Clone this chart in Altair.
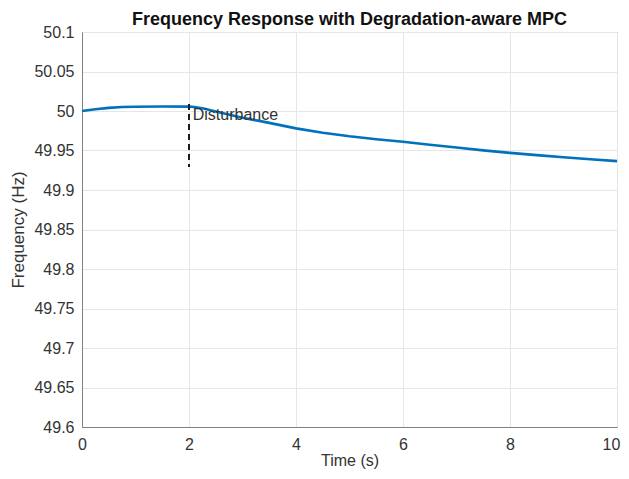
import altair as alt
import pandas as pd

# Frequency trace
time_s = [0, 0.25, 0.5, 0.75, 1, 1.5, 2, 2.1, 2.25, 2.5, 3, 3.5, 4, 4.5, 5, 5.5, 6, 6.5, 7, 7.5, 8, 8.5, 9, 9.5, 10]
freq_hz = [50.000, 50.0022, 50.0040, 50.0050, 50.0054, 50.0057, 50.0055, 50.0050, 50.0035, 49.9995, 49.9915, 49.9850, 49.9780, 49.9725, 49.9680, 49.9643, 49.9610, 49.9572, 49.9537, 49.9502, 49.9470, 49.9442, 49.9415, 49.9390, 49.9365]

dist_t = [2]
dist_top = [50.009]
dist_bottom = [49.929]
dist_label = ["Disturbance"]
label_t = [2.07]
label_y = [49.9955]

x_ticks = [0, 2, 4, 6, 8, 10]
y_ticks = [49.6, 49.65, 49.7, 49.75, 49.8, 49.85, 49.9, 49.95, 50.0, 50.05, 50.1]

df = pd.DataFrame({"t": time_s, "f": freq_hz})
dist_df = pd.DataFrame({"t": dist_t, "top": dist_top, "bottom": dist_bottom})
lab_df = pd.DataFrame({"t": label_t, "y": label_y, "text": dist_label})

FONT = "Liberation Sans"
TXT = "#333333"

x_scale = alt.Scale(domain=[0, 10], nice=False, zero=False)
y_scale = alt.Scale(domain=[49.6, 50.1], nice=False, zero=False)

common = dict(grid=True, ticks=False, labelFont=FONT, titleFont=FONT,
              labelFontSize=16, labelColor=TXT, titleColor=TXT,
              titleFontWeight="normal", gridColor="#e6e6e6", domainColor="#808080",
              labelFlush=False, labelOverlap=False)

x_axis = alt.Axis(values=x_ticks, title="Time (s)", labelPadding=9, titlePadding=0,
                  titleFontSize=16, format="d",
                  labelOffset={"condition": {"test": "datum.value == 10", "value": -6},
                               "value": 0},
                  **common)
y_axis = alt.Axis(values=y_ticks, title="Frequency (Hz)", labelPadding=8, titlePadding=6,
                  titleFontSize=17, format=".4~g", **common)

line = alt.Chart(df).mark_line(color="#0072BD", strokeWidth=2.6).encode(
    x=alt.X("t:Q", scale=x_scale, axis=x_axis),
    y=alt.Y("f:Q", scale=y_scale, axis=y_axis),
)

rule = alt.Chart(dist_df).mark_rule(color="#1a1a1a", strokeWidth=2, strokeDash=[6, 4]).encode(
    x=alt.X("t:Q", scale=x_scale, axis=x_axis),
    y=alt.Y("top:Q", scale=y_scale, axis=y_axis),
    y2="bottom:Q",
)

text = alt.Chart(lab_df).mark_text(align="left", baseline="middle", font=FONT,
                                   fontSize=16, color=TXT).encode(
    x=alt.X("t:Q", scale=x_scale, axis=x_axis),
    y=alt.Y("y:Q", scale=y_scale, axis=y_axis),
    text="text:N",
)

chart = alt.layer(line, rule, text).properties(
    width=535,
    height=395,
    title=alt.TitleParams("Frequency Response with Degradation-aware MPC",
                          font=FONT, fontSize=18, fontWeight="bold", color="#111111",
                          anchor="middle", frame="group", offset=-5),
    autosize=alt.AutoSizeParams(type="none"),
    padding={"left": 74, "top": 24, "right": 4, "bottom": 44},
).configure_view(
    stroke="#808080", strokeWidth=1,
)

chart.save("out.html", embed_options={"renderer": "svg", "actions": False})
